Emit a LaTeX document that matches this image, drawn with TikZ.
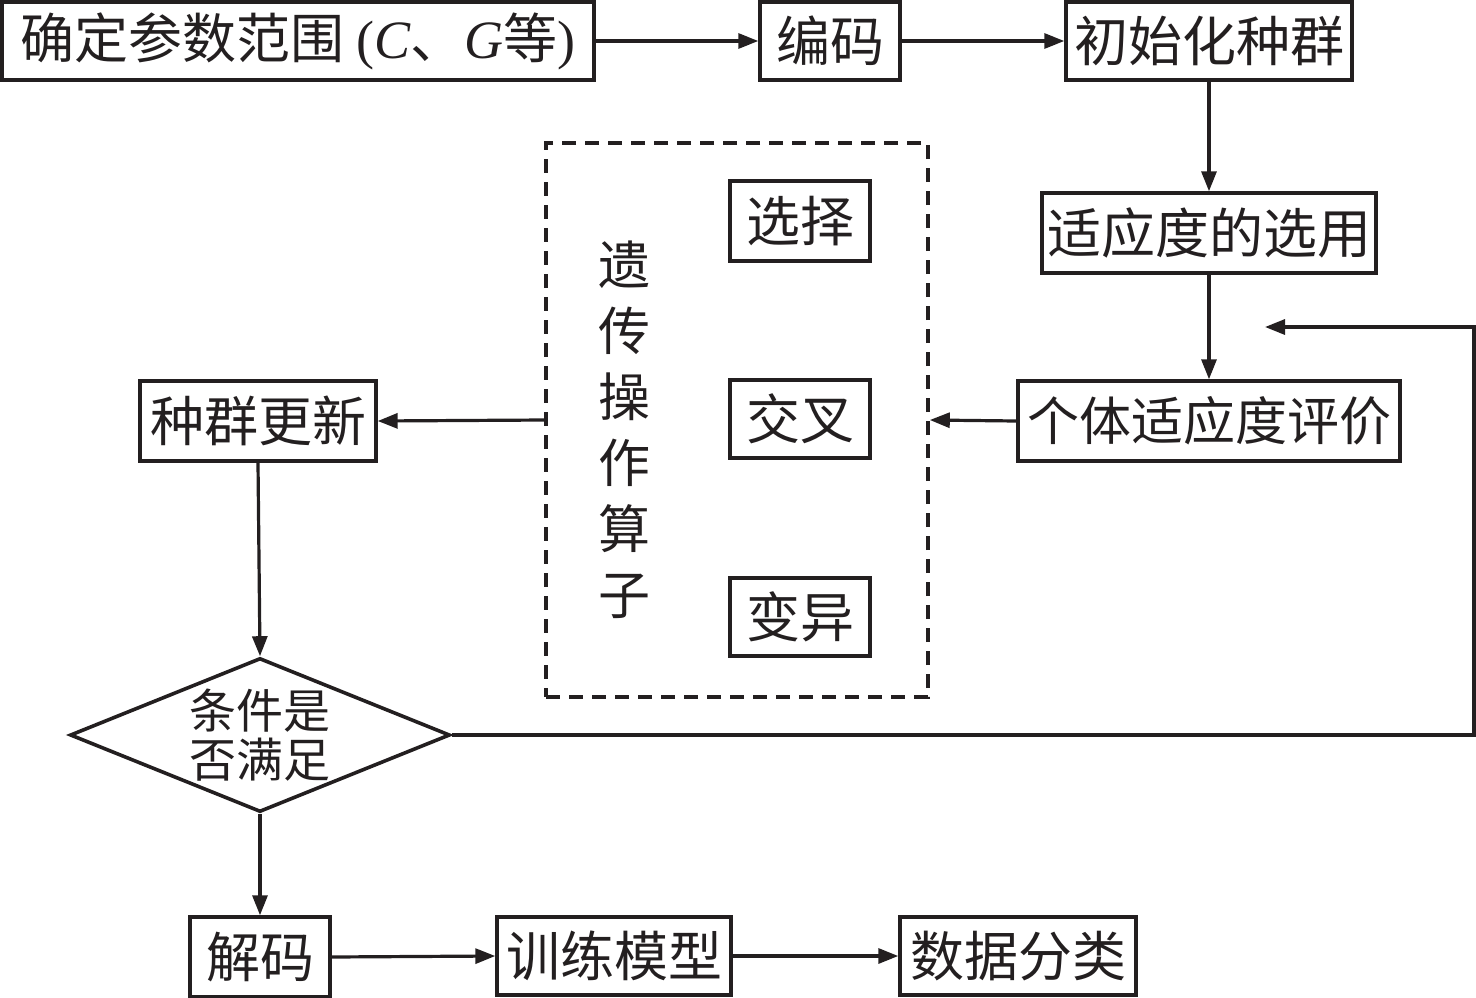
\documentclass[tikz,border=0pt]{standalone}
\usepackage{fontspec}
\setmainfont{Liberation Serif}
\newfontfamily\cjk{Noto Sans CJK SC}
\usetikzlibrary{arrows.meta,shapes.geometric}
\definecolor{ink}{HTML}{231F20}
\tikzset{
  every node/.style={font=\cjk\fontsize{54}{58}\selectfont, text=ink},
  flowbox/.style={draw=ink, line width=3.4pt, inner sep=0pt, minimum height=78pt, anchor=center},
  conn/.style={draw=ink, line width=3.2pt, -{Triangle[length=20pt,width=15pt]}},
}
\begin{document}
\begin{tikzpicture}[x=1pt,y=-1pt]
\useasboundingbox (0,0) rectangle (1476,997);
% top row
\node[flowbox, minimum width=592pt] (b1) at (298,41) {确定参数范围 {\rmfamily(\textit{C}}、{\rmfamily\textit{G}}等{\rmfamily)}};
\node[flowbox, minimum width=140pt] (b2) at (830,41) {编码};
\node[flowbox, minimum width=286pt] (b3) at (1209,41) {初始化种群};
% right column
\node[flowbox, minimum width=334pt, minimum height=80pt] (b4) at (1209,233) {适应度的选用};
\node[flowbox, minimum width=382pt, minimum height=80pt, font=\cjk\fontsize{52}{56}\selectfont] (b5) at (1209,421) {个体适应度评价};
% genetic operators
\node[draw=ink, dashed, dash pattern=on 14pt off 9pt, line width=3.6pt, minimum width=382pt, minimum height=554pt, inner sep=0pt] (ga) at (737,420) {};
\node[align=center, font=\cjk\fontsize{52}{66}\selectfont] (gatext) at (624,430) {遗\\传\\操\\作\\算\\子};
\node[flowbox, minimum width=140pt, minimum height=80pt] (s1) at (800,221) {选择};
\node[flowbox, minimum width=140pt] (s2) at (800,419) {交叉};
\node[flowbox, minimum width=140pt] (s3) at (800,617) {变异};
% left column
\node[flowbox, minimum width=236pt, minimum height=80pt] (upd) at (258,421) {种群更新};
\node[draw=ink, line width=3.6pt, diamond, aspect=2.47, inner sep=0pt, minimum width=380pt, minimum height=154pt, align=center, font=\cjk\fontsize{47}{49}\selectfont] (dia) at (260,735) {条件是\\否满足};
% bottom row
\node[flowbox, minimum width=140pt, minimum height=80pt] (dec) at (260,957) {解码};
\node[flowbox, minimum width=234pt] (train) at (614,956) {训练模型};
\node[flowbox, minimum width=236pt] (cls) at (1018,956) {数据分类};
\coordinate (fb) at (1265,327);
\coordinate (fbr) at (1474,327);
\coordinate (fbd) at (1474,735);
% connectors
\draw[conn] (b1.east) -- (b2.west);
\draw[conn] (b2.east) -- (b3.west);
\draw[conn] (b3.south) -- (b4.north);
\draw[conn] (b4.south) -- (b5.north);
\draw[conn] (b5.west) -- (ga.east);
\draw[conn] (ga.west) -- (upd.east);
\draw[conn] (upd.south) -- (dia.north);
\draw[conn] (dia.south) -- (dec.north);
\draw[conn] (dec.east) -- (train.west);
\draw[conn] (train.east) -- (cls.west);
\draw[conn] (dia.east) -- (fbd) -- (fbr) -- (fb);
\end{tikzpicture}
\end{document}
